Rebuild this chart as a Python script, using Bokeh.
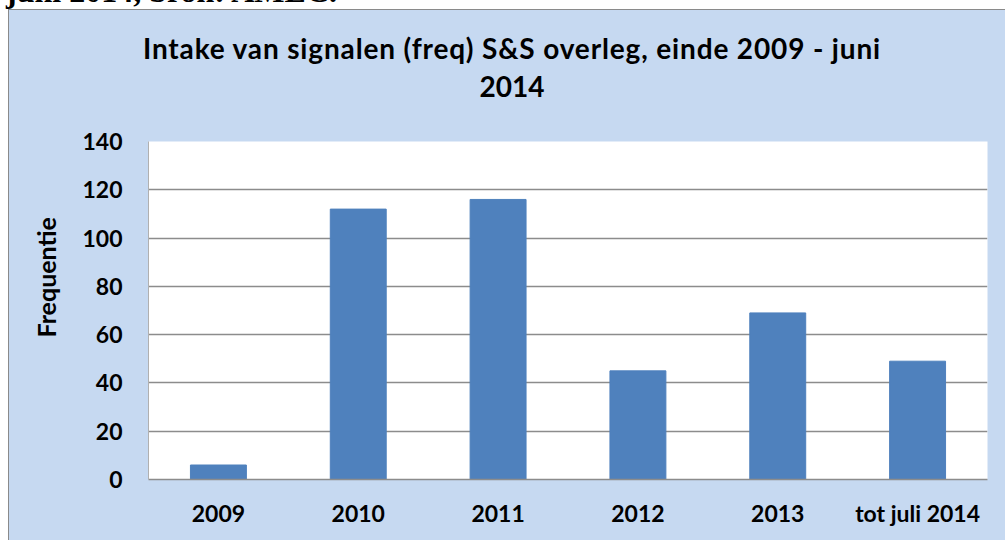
from bokeh.plotting import figure
from bokeh.models import Range1d, Div, FixedTicker, Title
from bokeh.layouts import column
from bokeh.embed import file_html
from bokeh.resources import INLINE

categories = ["2009", "2010", "2011", "2012", "2013", "tot juli 2014"]
values = [6, 112, 116, 45, 69, 49]
y_ticks = [0, 20, 40, 60, 80, 100, 120, 140]
title_lines = ["Intake van signalen (freq) S&amp;S overleg, einde 2009 - juni", "2014"]
y_label = "Frequentie"
caption = "juni 2014, bron: AMEC."

FONT = "Lato"
BLUE_BG = "#C6D9F1"
BAR = "#4F81BD"
GRID = "#8C8C8C"
EDGE = "#8A8A8A"

TOP_H = 110
W = 1005

# top part: caption (cut off by the window) and the two-line chart title
top_html = (
    '<div style="position:relative; width:%dpx; height:%dpx;">' % (W, TOP_H)
    + '<div style="position:absolute; left:6px; top:-25px; font-family:\'Liberation Serif\'; '
    'font-weight:bold; font-size:32px; line-height:33px; white-space:nowrap; color:black;">'
    + caption + '</div>'
    '<div style="position:absolute; left:0px; top:29px; width:1024px; text-align:center; '
    'font-family:Lato; font-weight:bold; font-size:28px; line-height:38px; color:black; white-space:nowrap;">'
    '<span style="letter-spacing:0.85px;">' + title_lines[0] + '</span><br>' + title_lines[1] + '</div>'
    '</div>'
)
top_bg = ("linear-gradient(to bottom, white 9px, transparent 9px), "
          "linear-gradient(to right, white 8px, %s 8px, %s 9px, transparent 9px), "
          "linear-gradient(to bottom, white 9px, %s 9px, %s 10px, %s 10px)"
          % (EDGE, EDGE, EDGE, EDGE, BLUE_BG))
top = Div(text=top_html, width=W, height=TOP_H, margin=0,
          styles={"overflow": "visible", "background": top_bg})

p = figure(x_range=categories, y_range=Range1d(0, 140), width=W, height=540 - TOP_H,
           output_backend="svg", toolbar_location=None, margin=0,
           min_border_left=148, min_border_right=18, min_border_top=31, min_border_bottom=61)
p.border_fill_color = None
p.styles = {"background": "linear-gradient(to right, white 8px, %s 8px, %s 9px, %s 9px)"
                          % (EDGE, EDGE, BLUE_BG)}
p.background_fill_color = "white"
p.outline_line_color = None

p.vbar(x=categories, top=values, width=0.4, fill_color=BAR, line_color=BAR)

p.xgrid.grid_line_color = None
p.ygrid.grid_line_color = GRID
p.ygrid.grid_line_width = 1.5

p.yaxis.ticker = FixedTicker(ticks=y_ticks)
for ax in (p.xaxis[0], p.yaxis[0]):
    ax.major_label_text_font = FONT
    ax.major_label_text_font_style = "bold"
    ax.major_label_text_font_size = "23px"
    ax.major_label_text_color = "black"
    ax.major_tick_line_color = None
    ax.major_tick_out = 0
    ax.major_tick_in = 0
    ax.minor_tick_line_color = None
    ax.minor_tick_out = 0
    ax.axis_line_color = GRID
    ax.axis_line_width = 1.5
p.yaxis.axis_line_color = "#b0b0b0"
p.yaxis.axis_line_width = 1
p.yaxis.major_label_standoff = 26
p.xaxis.major_label_standoff = 19

ytitle = Title(text=y_label, align="left", offset=142, standoff=38,
               text_font=FONT, text_font_style="bold", text_font_size="25px",
               text_color="black")
p.add_layout(ytitle, "left")

layout = column(top, p, spacing=0)
open("out.html", "w").write(file_html(layout, INLINE))
